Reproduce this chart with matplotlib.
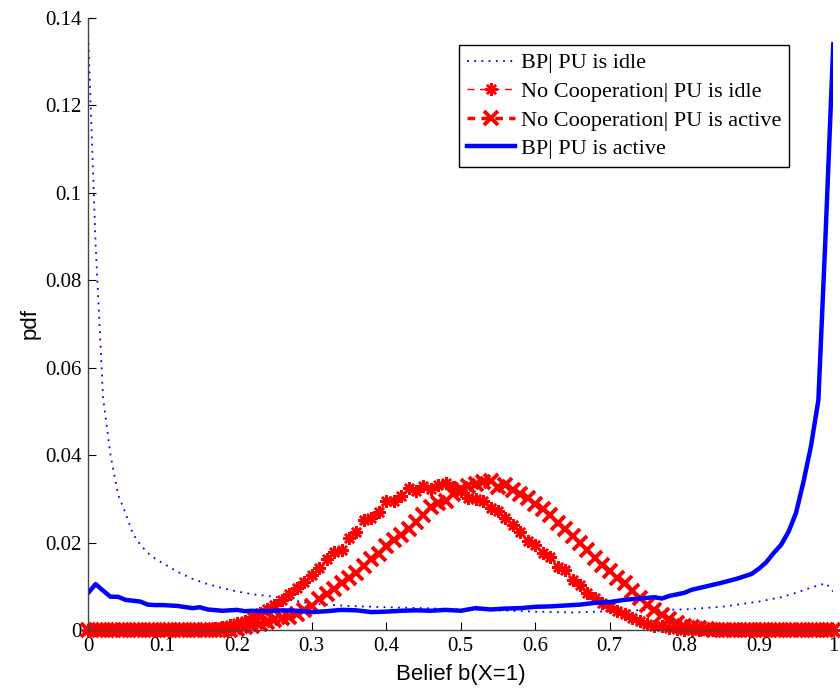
import matplotlib
matplotlib.use("Agg")
import matplotlib.pyplot as plt
import numpy as np
from matplotlib.ticker import FormatStrFormatter

# belief grid for the two "no cooperation" histograms (step 0.01)
x_nocoop = np.round(np.arange(0, 1.001, 0.01), 2)

nocoop_idle = [
    0, 0, 0, 0, 0, 0, 0, 0, 0, 0,
    0, 0, 0, 0, 0, 0, 0.0002, 0.0004, 0.0007, 0.0011,
    0.0015, 0.0020, 0.0030, 0.0038, 0.0048, 0.0058, 0.0069, 0.0082, 0.0097, 0.0110,
    0.0125, 0.0142, 0.0162, 0.0179, 0.0183, 0.0210, 0.0225, 0.0252, 0.0256, 0.0270,
    0.0294, 0.0296, 0.0307, 0.0325, 0.0317, 0.0330, 0.0323, 0.0332, 0.0337, 0.0326,
    0.0318, 0.0302, 0.0300, 0.0296, 0.0279, 0.0273, 0.0256, 0.0240, 0.0225, 0.0204,
    0.0195, 0.0176, 0.0167, 0.0144, 0.0137, 0.0114, 0.0103, 0.0085, 0.0073, 0.0062,
    0.0053, 0.0044, 0.0036, 0.0028, 0.0020, 0.0014, 0.0010, 0.0008, 0.0005, 0.0003,
    0.0001, 0, 0, 0, 0, 0, 0, 0, 0, 0,
    0, 0, 0, 0, 0, 0, 0, 0, 0, 0,
    0,
]

nocoop_active = [
    0, 0, 0, 0, 0, 0, 0, 0, 0, 0,
    0, 0, 0, 0, 0, 0, 0, 0, 0, 0,
    0.0003, 0.0006, 0.0010, 0.0014, 0.0019, 0.0023, 0.0027, 0.0030, 0.0037, 0.0045,
    0.0055, 0.0071, 0.0083, 0.0094, 0.0108, 0.0120, 0.0131, 0.0146, 0.0162, 0.0173,
    0.0193, 0.0205, 0.0218, 0.0232, 0.0246, 0.0263, 0.0282, 0.0290, 0.0295, 0.0312,
    0.0322, 0.0330, 0.0335, 0.0338, 0.0340, 0.0328, 0.0332, 0.0320, 0.0310, 0.0302,
    0.0288, 0.0276, 0.0263, 0.0245, 0.0230, 0.0216, 0.0198, 0.0183, 0.0165, 0.0148,
    0.0134, 0.0120, 0.0108, 0.0090, 0.0073, 0.0058, 0.0046, 0.0034, 0.0025, 0.0015,
    0.0010, 0.0007, 0.0004, 0.0002, 0, 0, 0, 0, 0, 0,
    0, 0, 0, 0, 0, 0, 0, 0, 0, 0,
    0,
]

# belief propagation, PU idle
x_bp_idle = [0.00, 0.01, 0.02, 0.03, 0.04, 0.05, 0.06, 0.07, 0.08, 0.09,
             0.10, 0.12, 0.14, 0.16, 0.18, 0.20, 0.22, 0.25, 0.30, 0.35,
             0.40, 0.45, 0.50, 0.55, 0.60, 0.65, 0.70, 0.75, 0.80, 0.85,
             0.90, 0.93, 0.95, 0.97, 0.99, 1.00]
bp_idle = [0.136, 0.088, 0.053, 0.040, 0.031, 0.0268, 0.022, 0.0195, 0.0176, 0.0163,
           0.0153, 0.0133, 0.0117, 0.0105, 0.0096, 0.0088, 0.0082, 0.0076, 0.0060, 0.0055,
           0.0052, 0.0050, 0.0047, 0.0045, 0.0042, 0.0040, 0.0043, 0.0046, 0.0047, 0.0053,
           0.0065, 0.0075, 0.0085, 0.0097, 0.0107, 0.0088]

# belief propagation, PU active
x_bp_active = [0.00, 0.01, 0.02, 0.03, 0.04, 0.05, 0.06, 0.07, 0.08, 0.09,
               0.10, 0.12, 0.14, 0.15, 0.16, 0.18, 0.20, 0.21, 0.22, 0.24,
               0.26, 0.28, 0.30, 0.32, 0.34, 0.36, 0.38, 0.40, 0.42, 0.44,
               0.46, 0.48, 0.50, 0.52, 0.54, 0.56, 0.58, 0.60, 0.62, 0.64,
               0.66, 0.68, 0.70, 0.72, 0.74, 0.76, 0.77, 0.78, 0.80, 0.81,
               0.83, 0.85, 0.87, 0.89, 0.90, 0.91, 0.92, 0.93, 0.94, 0.95,
               0.96, 0.97, 0.98, 0.99, 1.00]
bp_active = [0.0085, 0.0105, 0.0090, 0.0076, 0.0076, 0.0069, 0.0067, 0.0065, 0.0058, 0.0057,
             0.0057, 0.0055, 0.0050, 0.0052, 0.0047, 0.0044, 0.0046, 0.0043, 0.0044, 0.0043,
             0.0045, 0.0044, 0.0041, 0.0043, 0.0046, 0.0045, 0.0041, 0.0042, 0.0044, 0.0045,
             0.0044, 0.0046, 0.0044, 0.0050, 0.0047, 0.0049, 0.0050, 0.0053, 0.0054, 0.0056,
             0.0058, 0.0062, 0.0064, 0.0069, 0.0072, 0.0075, 0.0072, 0.0078, 0.0085, 0.0092,
             0.0100, 0.0108, 0.0117, 0.0128, 0.0140, 0.0155, 0.0176, 0.0195, 0.0225, 0.0268,
             0.0339, 0.0420, 0.0526, 0.0918, 0.1340]

labels = ["BP| PU is idle", "No Cooperation| PU is idle",
          "No Cooperation| PU is active", "BP| PU is active"]

SERIF = "Liberation Serif"
SANS = "Liberation Sans"

fig = plt.figure(figsize=(8.4, 6.92), dpi=100)
ax = fig.add_axes([0.105, 0.0896, 0.887, 0.8844])

ax.plot(x_bp_idle, bp_idle, color="#0000ff", linestyle=(0, (1, 3)), linewidth=1.3,
        label=labels[0])
ax.plot(x_nocoop, nocoop_idle, color="#ff0000", linestyle=(0, (5, 4)), linewidth=1.0,
        marker=(8, 2, 0), markersize=9, markeredgewidth=1.8,
        label=labels[1], clip_on=False)
ax.plot(x_nocoop, nocoop_active, color="#ff0000", linestyle=(0, (2.2, 1.8)), linewidth=2.5,
        marker="x", markersize=10, markeredgewidth=2.8,
        label=labels[2], clip_on=False)
ax.plot(x_bp_active, bp_active, "-", color="#0000ff", linewidth=3.2, label=labels[3])

ax.set_xlim(0, 1)
ax.set_ylim(0, 0.14)
ax.set_xticks(np.arange(0, 1.01, 0.1))
ax.set_yticks(np.arange(0, 0.141, 0.02))
ax.xaxis.set_major_formatter(FormatStrFormatter("%g"))
ax.yaxis.set_major_formatter(FormatStrFormatter("%g"))
ax.tick_params(direction="in", length=6, width=0.8, labelsize=15, pad=5)
for lab in ax.get_xticklabels() + ax.get_yticklabels():
    lab.set_fontfamily(SERIF)

ax.spines["top"].set_visible(False)
ax.spines["right"].set_visible(False)
for s in ("left", "bottom"):
    ax.spines[s].set_color("#444444")
    ax.spines[s].set_linewidth(1.0)

ax.set_xlabel("Belief b(X=1)", fontsize=16, family=SANS, labelpad=6)
ax.set_ylabel("pdf", fontsize=16, family=SANS, labelpad=3)

leg = ax.legend(loc="upper right", bbox_to_anchor=(0.941, 0.956),
                prop={"family": SERIF, "size": 16}, numpoints=1,
                handlelength=2.2, handletextpad=0.25, labelspacing=0.36,
                borderpad=0.36, borderaxespad=0, fancybox=False, framealpha=1)
leg.get_frame().set_edgecolor("black")
leg.get_frame().set_linewidth(1.0)

fig.savefig("out.png", dpi=100)
